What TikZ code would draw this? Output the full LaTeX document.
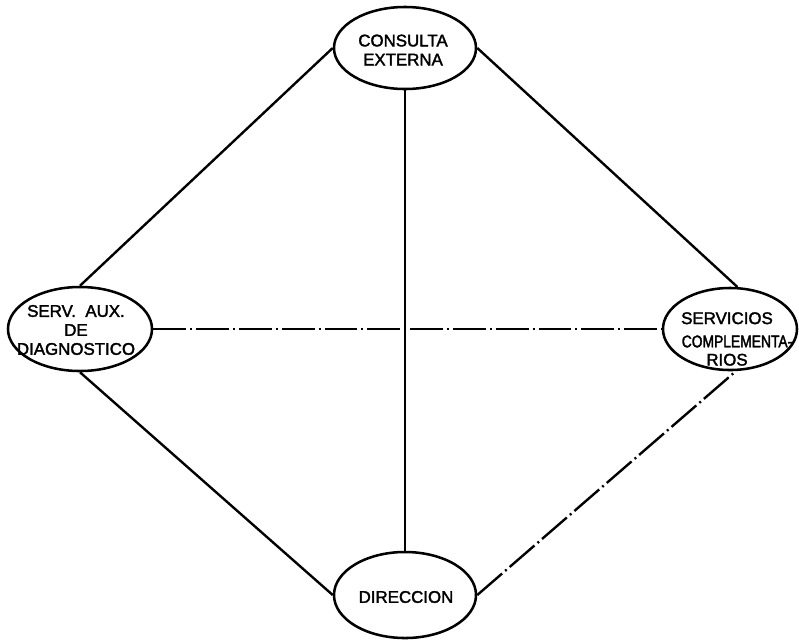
\documentclass[tikz,border=0pt]{standalone}
\usepackage{fontspec}
\setmainfont{Liberation Sans}
\newfontfamily\lblfont[FakeBold=2]{Liberation Sans}
\newfontfamily\narrowfont[FakeBold=2,FakeStretch=0.82]{Liberation Sans}
\usetikzlibrary{shapes.geometric}

\begin{document}
\begin{tikzpicture}[x=0.025cm,y=-0.025cm,
 bub/.style={draw,ellipse,inner sep=0pt,line width=1.8pt},
 txt/.style={align=center,inner sep=0pt,font=\lblfont\fontsize{12}{13.5}\selectfont},
 conn/.style={line width=1.7pt},
 dashdot/.style={line width=1.7pt,dash pattern=on 0.82cm off 0.1cm on 0.05cm off 0.1cm}]
\useasboundingbox (0,0) rectangle (799,640);
% areas
\node[bub,minimum width=3.55cm,minimum height=2.05cm] (ce) at (405,48) {};
\node[txt] (cet) at (403,50) {CONSULTA\\EXTERNA};
\node[bub,minimum width=3.6cm,minimum height=2.1cm] (sa) at (80,329) {};
\node[txt] (sat) at (76,330) {SERV.\ \ AUX.\\DE\\DIAGNOSTICO};
\node[bub,minimum width=3.35cm,minimum height=2.05cm] (sc) at (730,329) {};
\node[txt] (sct) at (727,339) {SERVICIOS\\[3pt]\hspace*{0.5cm}{\narrowfont COMPLEMENTA-}\\[-0.5pt]RIOS};
\node[bub,minimum width=3.55cm,minimum height=2.15cm] (di) at (405,595) {};
\node[txt] (dit) at (406,597) {DIRECCION};
% links
\draw[conn] (ce.west) -- (sa.north);
\draw[conn] (ce.east) -- (sc.80);
\draw[conn] (ce.south) -- (di.north);
\draw[conn] (sa.south) -- (di.west);
\draw[dashdot] (sa.east) -- (sc.west);
\draw[dashdot] (di.east) -- (sc.-82);
\end{tikzpicture}
\end{document}
